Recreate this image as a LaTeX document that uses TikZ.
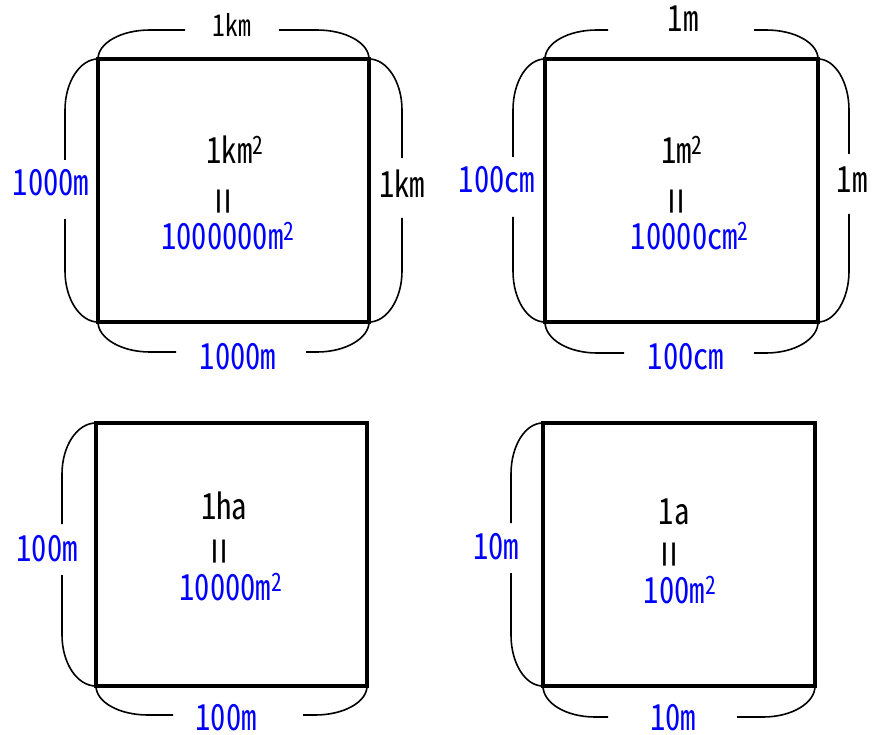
\documentclass[tikz,border=0pt]{standalone}
\usepackage{fontspec}
\setmainfont{Noto Sans CJK JP}[RawFeature=+hwid, FakeStretch=0.85]
\usepackage{tikz}
\usetikzlibrary{calc, positioning}

\begin{document}
\begin{tikzpicture}[x=1pt, y=-1pt,
    box/.style={line width=3.3pt},
    brace/.style={line width=1.6pt},
    lbl/.style={inner sep=0pt, font=\fontsize{36}{36}\selectfont},
    blu/.style={lbl, text=blue},
    eqsign/.style={inner sep=0pt, rotate=90, font=\fontsize{38}{38}\selectfont}]
    \path[use as bounding box, fill=white] (0,0) rectangle (882,735);

    % corners
    \coordinate (a1) at (98,59);  \coordinate (b1) at (369,59);
    \coordinate (c1) at (369,322); \coordinate (d1) at (98,322);
    \coordinate (a2) at (545,59); \coordinate (b2) at (818,59);
    \coordinate (c2) at (818,322); \coordinate (d2) at (545,322);
    \coordinate (a3) at (96,423); \coordinate (b3) at (367,423);
    \coordinate (c3) at (367,686); \coordinate (d3) at (96,686);
    \coordinate (a4) at (543,423); \coordinate (b4) at (815,423);
    \coordinate (c4) at (815,686); \coordinate (d4) at (543,686);

    % square 1: 1km2
    \draw[box] (a1) rectangle (c1);
    \draw[brace] (a1) .. controls +(0,-16) and +(-29,0) .. (150,30) -- (185,30)
        (279,30) -- (317,30) .. controls +(29,0) and +(0,-16) .. (b1);
    \draw[brace] (d1) .. controls +(0,16) and +(-29,0) .. (150,352) -- (176,352)
        (306,352) -- (317,352) .. controls +(29,0) and +(0,16) .. (c1);
    \draw[brace] (a1) .. controls +(-18,0) and +(0,-28) .. (65,110) -- (65,160)
        (65,219) -- (65,271) .. controls +(0,28) and +(-18,0) .. (d1);
    \draw[brace] (b1) .. controls +(18,0) and +(0,-28) .. (402,110) -- (402,158)
        (402,218) -- (402,271) .. controls +(0,28) and +(18,0) .. (c1);
    \node[lbl, font=\fontsize{30}{30}\selectfont] (top1) at (232,25) {1km};
    \node[blu] (bot1) at (238,357) {1000m};
    \node[blu] (left1) at (51,183) {1000m};
    \node[lbl] (right1) at (402,184) {1km};
    \node[lbl] (km2) at (235,150) {1km\textsuperscript{2}};
    \node[eqsign] (eq1) at (228,202) {\scalebox{1.6}[1]{=}};
    \node[blu] (m2a) at (228,236) {1000000m\textsuperscript{2}};

    % square 2: 1m2
    \draw[box] (a2) rectangle (c2);
    \draw[brace] (a2) .. controls +(0,-16) and +(-29,0) .. (597,30) -- (608,30)
        (754,30) -- (766,30) .. controls +(29,0) and +(0,-16) .. (b2);
    \draw[brace] (d2) .. controls +(0,17) and +(-29,0) .. (597,353) -- (624,353)
        (754,353) -- (766,353) .. controls +(29,0) and +(0,17) .. (c2);
    \draw[brace] (a2) .. controls +(-18,0) and +(0,-28) .. (513,110) -- (513,157)
        (513,217) -- (513,271) .. controls +(0,28) and +(-18,0) .. (d2);
    \draw[brace] (b2) .. controls +(17,0) and +(0,-28) .. (849,110) -- (849,154)
        (849,214) -- (849,271) .. controls +(0,28) and +(17,0) .. (c2);
    \node[lbl] (top2) at (683,19) {1m};
    \node[blu] (bot2) at (686,357) {100cm};
    \node[blu] (left2) at (497,180) {100cm};
    \node[lbl] (right2) at (852,180) {1m};
    \node[lbl] (m2) at (682,150) {1m\textsuperscript{2}};
    \node[eqsign] (eq2) at (681,202) {\scalebox{1.6}[1]{=}};
    \node[blu] (cm2) at (690,236) {10000cm\textsuperscript{2}};

    % square 3: 1ha
    \draw[box] (a3) rectangle (c3);
    \draw[brace] (a3) .. controls +(-19,0) and +(0,-28) .. (62,474) -- (62,524)
        (62,575) -- (62,635) .. controls +(0,28) and +(-19,0) .. (d3);
    \draw[brace] (d3) .. controls +(0,16) and +(-29,0) .. (148,715) -- (173,715)
        (303,715) -- (315,715) .. controls +(29,0) and +(0,16) .. (c3);
    \node[blu] (left3) at (47,549) {100m};
    \node[blu] (bot3) at (226,718) {100m};
    \node[lbl] (ha) at (224,506) {1ha};
    \node[eqsign] (eq3) at (224,552) {\scalebox{1.6}[1]{=}};
    \node[blu] (m2c) at (231,587) {10000m\textsuperscript{2}};

    % square 4: 1a
    \draw[box] (a4) rectangle (c4);
    \draw[brace] (a4) .. controls +(-18,0) and +(0,-28) .. (511,474) -- (511,523)
        (511,573) -- (511,635) .. controls +(0,28) and +(-18,0) .. (d4);
    \draw[brace] (d4) .. controls +(0,17) and +(-29,0) .. (595,717) -- (608,717)
        (737,717) -- (763,717) .. controls +(29,0) and +(0,17) .. (c4);
    \node[blu] (left4) at (496,547) {10m};
    \node[blu] (bot4) at (673,718) {10m};
    \node[lbl] (are) at (674,512) {1a};
    \node[eqsign] (eq4) at (674,555) {\scalebox{1.6}[1]{=}};
    \node[blu] (m2d) at (680,590) {100m\textsuperscript{2}};
\end{tikzpicture}
\end{document}
